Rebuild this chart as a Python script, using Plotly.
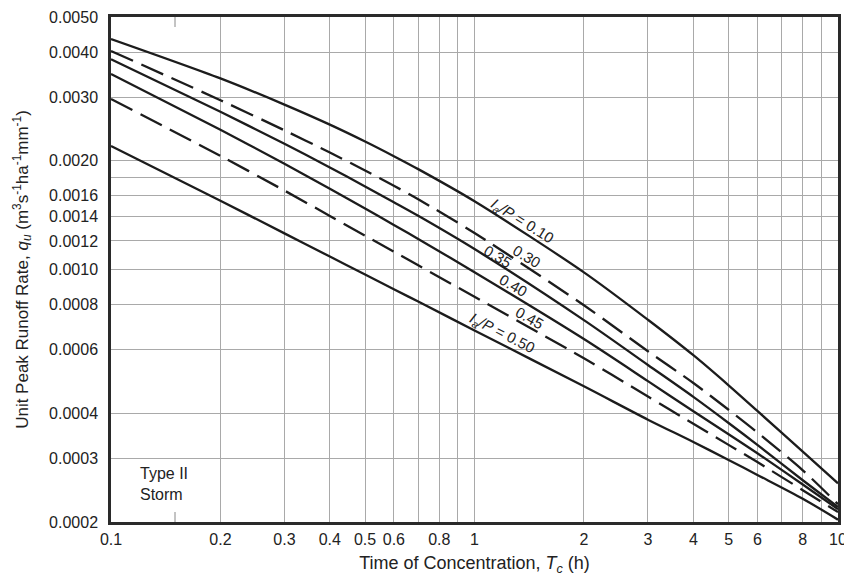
import plotly.graph_objects as go

# ---- data ----
tc = [0.1, 0.2, 0.3, 0.4, 0.5, 0.6, 0.7, 1, 2, 3, 4, 5, 6, 8, 10]

qu_010 = [0.004346, 0.003381, 0.002861, 0.002518, 0.002261, 0.002059, 0.001896, 0.001545,
          0.000982, 0.000726, 0.000579, 0.000478, 0.000406, 0.000313, 0.000256]
qu_030 = [0.004026, 0.002942, 0.002428, 0.002108, 0.001879, 0.001705, 0.001565, 0.001262,
          0.000796, 0.000594, 0.000485, 0.000409, 0.000354, 0.000278, 0.000224]
qu_035 = [0.003818, 0.002732, 0.002228, 0.001917, 0.001698, 0.001535, 0.001408, 0.001139,
          0.000724, 0.000544, 0.000444, 0.000376, 0.000327, 0.000261, 0.000220]
qu_040 = [0.003477, 0.002436, 0.001963, 0.001673, 0.001476, 0.001329, 0.001215, 0.000983,
          0.000642, 0.000491, 0.000405, 0.000350, 0.000310, 0.000254, 0.000217]
qu_045 = [0.002965, 0.002063, 0.001654, 0.001407, 0.001241, 0.001120, 0.001027, 0.000840,
          0.000568, 0.000445, 0.000374, 0.000327, 0.000293, 0.000245, 0.000213]
qu_050 = [0.002197, 0.001550, 0.001259, 0.001086, 0.000968, 0.000882, 0.000815, 0.000678,
          0.000475, 0.000384, 0.000333, 0.000297, 0.000270, 0.000232, 0.000203]

series = [
    ("0.10", qu_010, "solid"),
    ("0.30", qu_030, "24px,9px"),
    ("0.35", qu_035, "solid"),
    ("0.40", qu_040, "solid"),
    ("0.45", qu_045, "24px,9px"),
    ("0.50", qu_050, "solid"),
]

x_grid = [0.1, 0.2, 0.3, 0.4, 0.5, 0.6, 0.7, 0.8, 0.9, 1, 2, 3, 4, 5, 6, 7, 8, 9, 10]
x_text = ["0.1", "0.2", "0.3", "0.4", "0.5", "0.6", "", "0.8", "", "1",
          "2", "3", "4", "5", "6", "", "8", "", "10"]
y_grid = [0.0002, 0.0003, 0.0004, 0.0006, 0.0008, 0.0010, 0.0012, 0.0014, 0.0016,
          0.0018, 0.0020, 0.0030, 0.0040, 0.0050]
y_text = ["0.0002", "0.0003", "0.0004", "0.0006", "0.0008", "0.0010", "0.0012", "0.0014",
          "0.0016", "", "0.0020", "0.0030", "0.0040", "0.0050"]

FONT = "Liberation Sans, Arial, sans-serif"
INK = "#1c1c1c"

fig = go.Figure()
for name, vals, dash in series:
    fig.add_trace(go.Scatter(
        x=tc, y=vals, mode="lines", name=name,
        line=dict(color=INK, width=2.3, dash=dash, shape="spline", smoothing=0.8),
        showlegend=False, hoverinfo="skip",
    ))

fig.update_xaxes(
    type="log", range=[-1, 1], automargin=False,
    tickmode="array", tickvals=x_grid, ticktext=x_text,
    showgrid=True, gridcolor="#a9a9a9", gridwidth=1,
    showline=True, mirror=True, linecolor="#2a2a2a", linewidth=2.5,
    ticks="outside", ticklen=1, tickcolor="rgba(0,0,0,0)",
    tickfont=dict(family=FONT, size=16, color="#222"),
    title=dict(text="Time of Concentration, <i>T<sub>c</sub></i> (h)",
               font=dict(family=FONT, size=18, color="#222"), standoff=17),
    zeroline=False,
)
fig.update_yaxes(
    type="log", range=[0.30103 - 4, 0.69897 - 3], automargin=False,
    tickmode="array", tickvals=y_grid, ticktext=y_text,
    showgrid=True, gridcolor="#a9a9a9", gridwidth=1,
    showline=True, mirror=True, linecolor="#2a2a2a", linewidth=2.5,
    ticks="outside", ticklen=7, tickcolor="rgba(0,0,0,0)",
    tickfont=dict(family=FONT, size=16, color="#222"),
    title=dict(text="Unit Peak Runoff Rate, <i>q<sub>u</sub></i> (m<sup>3</sup>s<sup>-1</sup>ha<sup>-1</sup>mm<sup>-1</sup>)",
               font=dict(family=FONT, size=17, color="#222"), standoff=17),
    zeroline=False,
)

# short inside tick marks at Tc = 0.15 (top and bottom)
for y0, y1 in [(0, 0.02), (0.98, 1)]:
    fig.add_shape(type="line", xref="x", yref="paper", x0=0.15, x1=0.15, y0=y0, y1=y1,
                  line=dict(color="#b0b0b0", width=1.5))

lab_font = dict(family=FONT, size=15, color="#222")
labels = [
    ("<i>I<sub>a</sub>/P</i> = 0.10", 0.566, 0.596, 32),
    ("0.30", 0.572, 0.525, 31),
    ("0.35", 0.532, 0.525, 31),
    ("0.40", 0.554, 0.469, 30),
    ("0.45", 0.575, 0.404, 29),
    ("<i>I<sub>a</sub>/P</i> = 0.50", 0.538, 0.374, 27),
]
for txt, xp, yp, ang in labels:
    fig.add_annotation(text=txt, xref="paper", yref="paper", x=xp, y=yp,
                       showarrow=False, textangle=ang, font=lab_font,
                       xanchor="center", yanchor="middle")

fig.add_annotation(text="Type II<br>Storm", xref="paper", yref="paper",
                   x=0.037, y=0.075, showarrow=False, align="left",
                   xanchor="left", yanchor="middle",
                   font=dict(family=FONT, size=16, color="#222"))

# The page body keeps its default 8px margin, so the figure is sized to fit the window.
fig.update_layout(
    width=844, height=568,
    margin=dict(l=103, r=14, t=9, b=54),
    paper_bgcolor="white", plot_bgcolor="white",
    font=dict(family=FONT),
)

fig.write_html("out.html")
